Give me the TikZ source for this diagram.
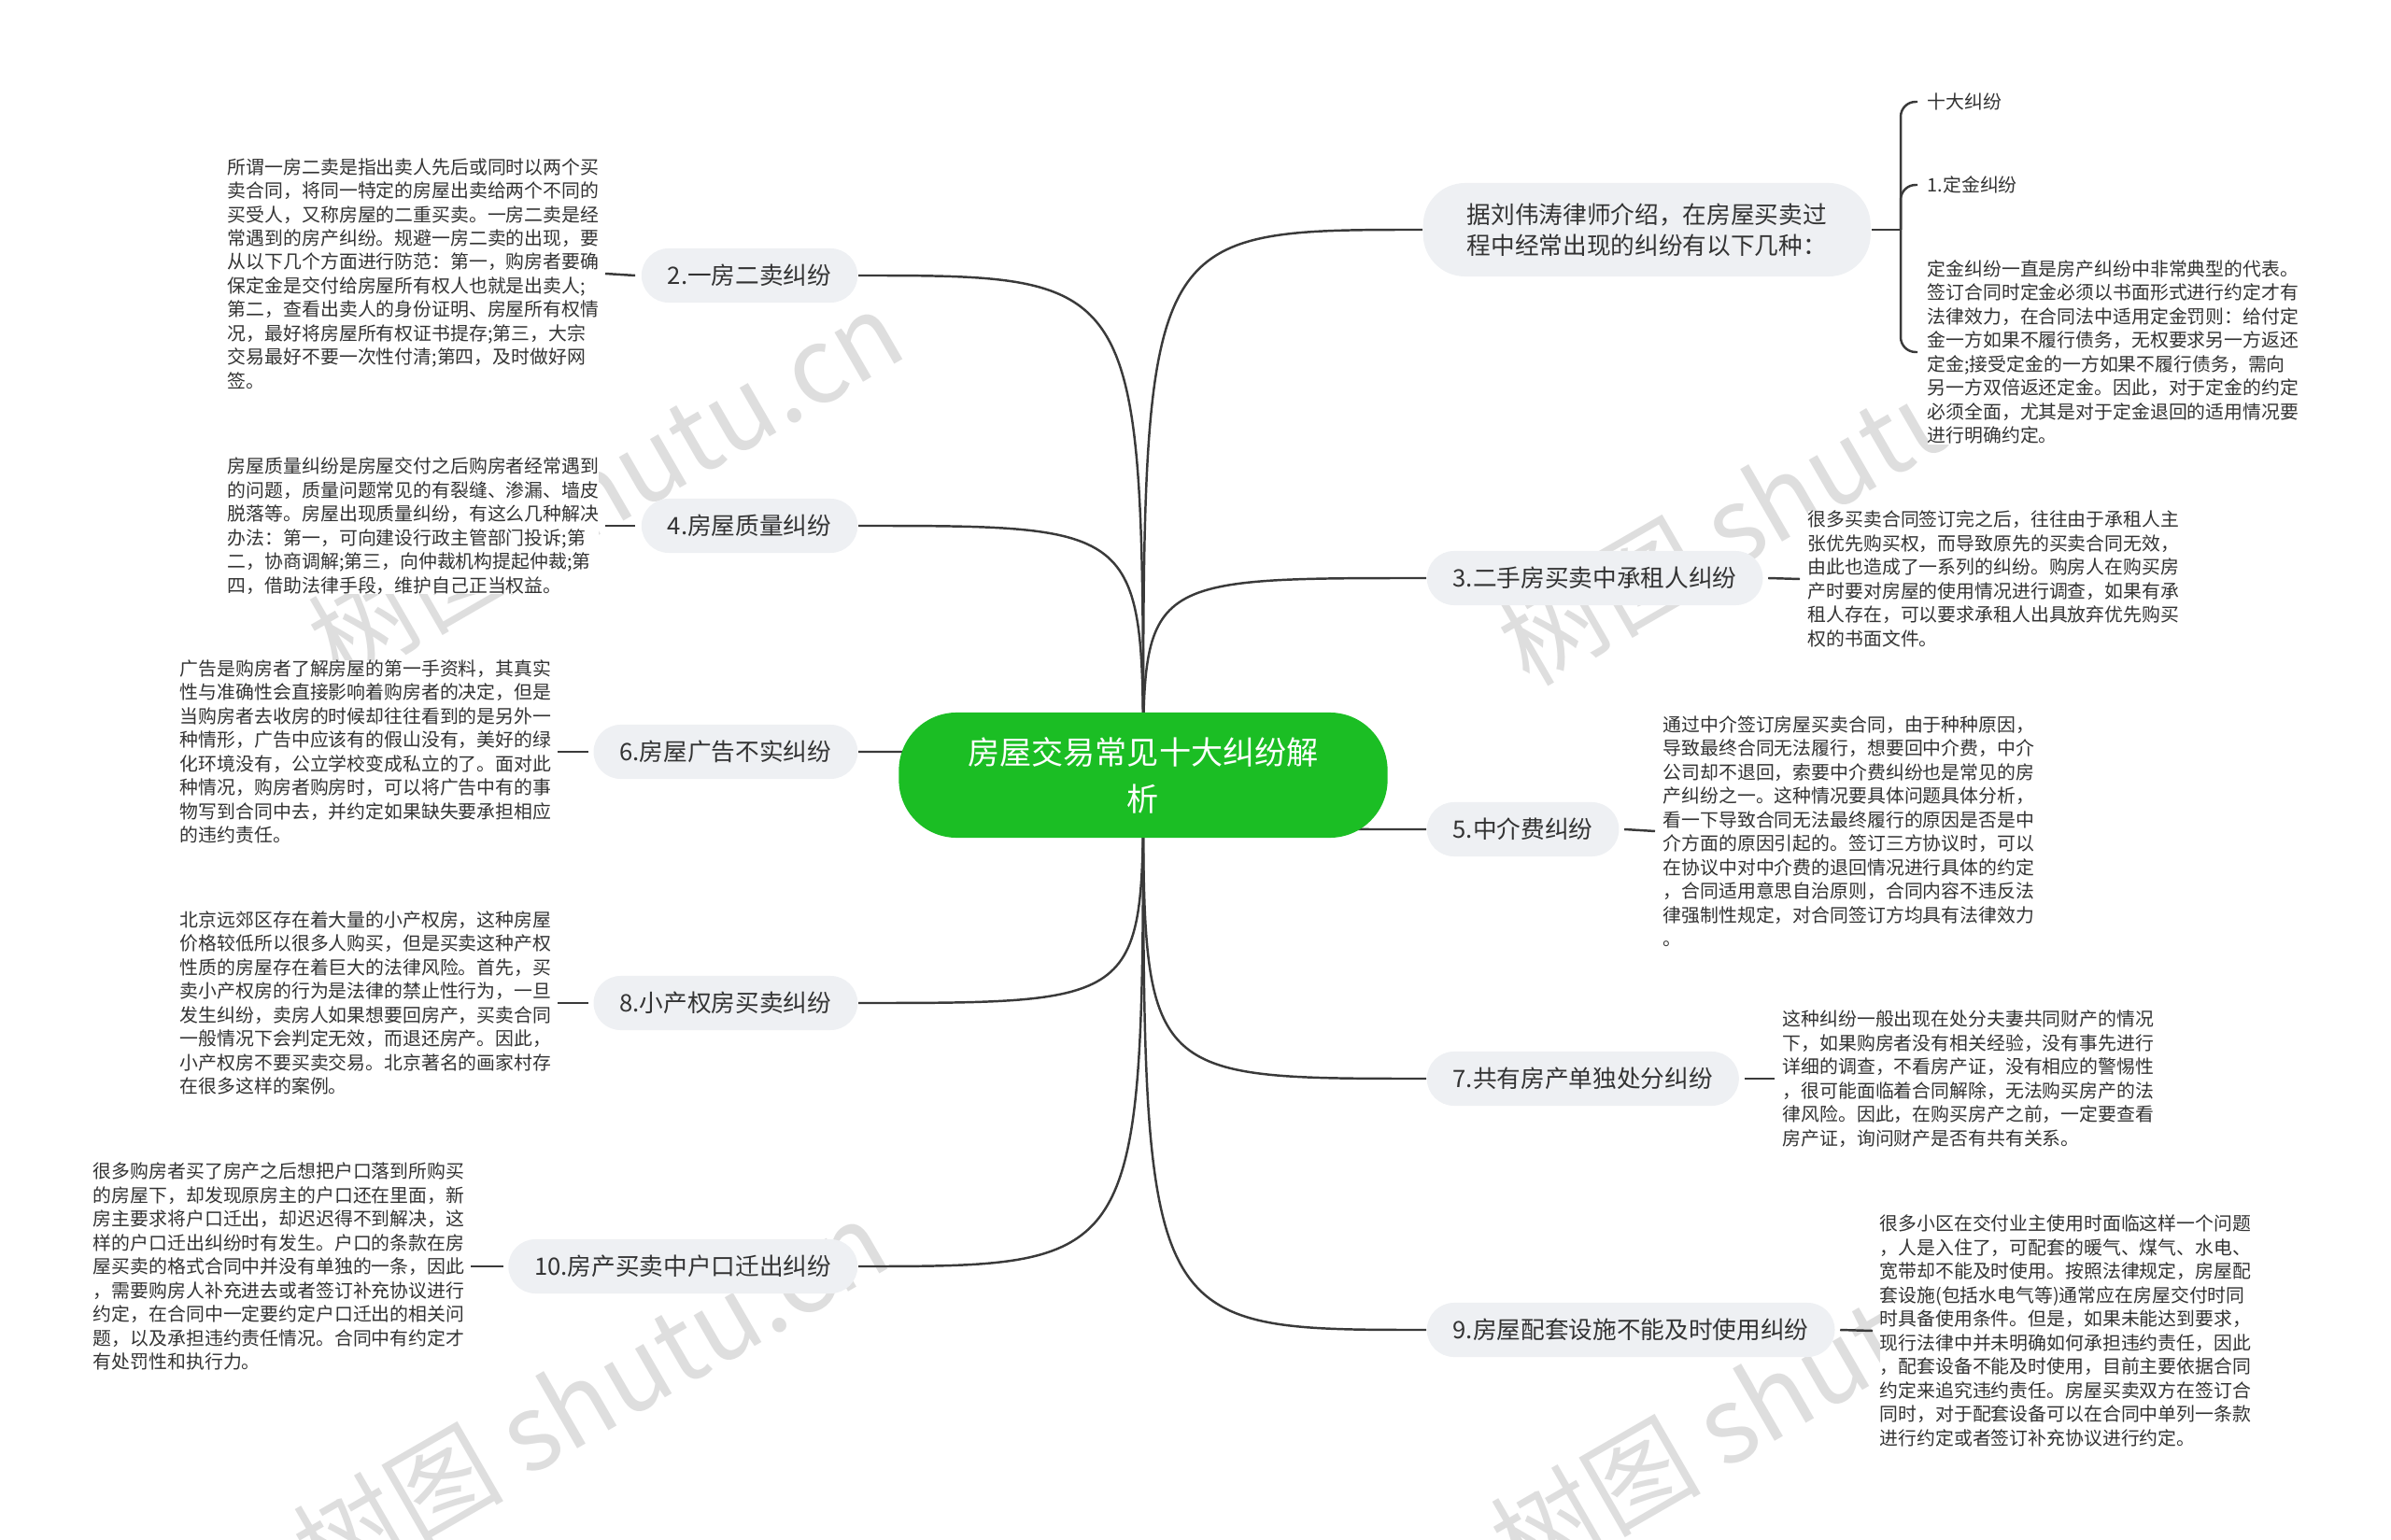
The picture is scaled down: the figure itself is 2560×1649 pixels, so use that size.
\documentclass[tikz,border=0pt]{standalone}
\usepackage{fontspec}
\setmainfont{Noto Sans CJK SC}
\usetikzlibrary{positioning}
\definecolor{rootGreen}{RGB}{27,190,36}
\definecolor{paleGray}{RGB}{238,240,243}
\definecolor{inkGray}{RGB}{51,51,51}
\definecolor{lineGray}{RGB}{58,58,58}
\definecolor{markGray}{RGB}{222,222,222}
\pgfdeclarelayer{bg}
\pgfsetlayers{bg,main}
\tikzset{
  rootbox/.style={fill=rootGreen, text=white, rounded corners=0.62cm, align=center,
                  minimum width=5.23cm, minimum height=1.34cm, font=\fontsize{9.7pt}{14.2pt}\selectfont},
  branchbox/.style={fill=paleGray, text=inkGray, rounded corners=0.29cm, align=left,
                    inner xsep=0.28cm, minimum height=0.58cm, font=\fontsize{7.3pt}{9.5pt}\selectfont},
  notetext/.style={fill=white, text=inkGray, align=left, inner sep=0pt,
                   font=\fontsize{5.65pt}{7.25pt}\selectfont},
  link/.style={draw=lineGray, line width=0.7pt},
  watermark/.style={text=markGray, rotate=30, font=\fontsize{32pt}{32pt}\selectfont}
}
\begin{document}
\begin{tikzpicture}[x=0.01cm, y=-0.01cm]
\useasboundingbox (0,0) rectangle (2560,1649);
\begin{pgfonlayer}{bg}
\node[watermark] (w1) at (648,520) {树图 shutu.cn};
\node[watermark] (w2) at (1922,523) {树图 shutu.cn};
\node[watermark] (w3) at (632,1494) {树图 shutu.cn};
\node[watermark] (w4) at (1914,1486) {树图 shutu.cn};
\end{pgfonlayer}

\node[rootbox] (root) at (1224,830) {房屋交易常见十大纠纷解\\析};

\node[branchbox, anchor=east] (b2) at (919,295) {2.一房二卖纠纷};
\node[branchbox, anchor=east] (b4) at (919,563) {4.房屋质量纠纷};
\node[branchbox, anchor=east] (b6) at (919,805) {6.房屋广告不实纠纷};
\node[branchbox, anchor=east] (b8) at (919,1074) {8.小产权房买卖纠纷};
\node[branchbox, anchor=east] (b10) at (919,1356) {10.房产买卖中户口迁出纠纷};

\node[branchbox, anchor=west, inner xsep=0.47cm, minimum height=1cm, rounded corners=0.45cm] (b1) at (1523,246) {据刘伟涛律师介绍，在房屋买卖过\\程中经常出现的纠纷有以下几种：};
\node[branchbox, anchor=west] (b3) at (1527,619) {3.二手房买卖中承租人纠纷};
\node[branchbox, anchor=west] (b5) at (1527,888) {5.中介费纠纷};
\node[branchbox, anchor=west] (b7) at (1527,1155) {7.共有房产单独处分纠纷};
\node[branchbox, anchor=west] (b9) at (1527,1424) {9.房屋配套设施不能及时使用纠纷};

\node[notetext, anchor=east] (t2) at (642,293) {所谓一房二卖是指出卖人先后或同时以两个买\\卖合同，将同一特定的房屋出卖给两个不同的\\买受人，又称房屋的二重买卖。一房二卖是经\\常遇到的房产纠纷。规避一房二卖的出现，要\\从以下几个方面进行防范：第一，购房者要确\\保定金是交付给房屋所有权人也就是出卖人;\\第二，查看出卖人的身份证明、房屋所有权情\\况，最好将房屋所有权证书提存;第三，大宗\\交易最好不要一次性付清;第四，及时做好网\\签。};
\node[notetext, anchor=east] (t4) at (642,563) {房屋质量纠纷是房屋交付之后购房者经常遇到\\的问题，质量问题常见的有裂缝、渗漏、墙皮\\脱落等。房屋出现质量纠纷，有这么几种解决\\办法：第一，可向建设行政主管部门投诉;第\\二，协商调解;第三，向仲裁机构提起仲裁;第\\四，借助法律手段，维护自己正当权益。};
\node[notetext, anchor=east] (t6) at (591,805) {广告是购房者了解房屋的第一手资料，其真实\\性与准确性会直接影响着购房者的决定，但是\\当购房者去收房的时候却往往看到的是另外一\\种情形，广告中应该有的假山没有，美好的绿\\化环境没有，公立学校变成私立的了。面对此\\种情况，购房者购房时，可以将广告中有的事\\物写到合同中去，并约定如果缺失要承担相应\\的违约责任。};
\node[notetext, anchor=east] (t8) at (591,1074) {北京远郊区存在着大量的小产权房，这种房屋\\价格较低所以很多人购买，但是买卖这种产权\\性质的房屋存在着巨大的法律风险。首先，买\\卖小产权房的行为是法律的禁止性行为，一旦\\发生纠纷，卖房人如果想要回房产，买卖合同\\一般情况下会判定无效，而退还房产。因此，\\小产权房不要买卖交易。北京著名的画家村存\\在很多这样的案例。};
\node[notetext, anchor=east] (t10) at (498,1356) {很多购房者买了房产之后想把户口落到所购买\\的房屋下，却发现原房主的户口还在里面，新\\房主要求将户口迁出，却迟迟得不到解决，这\\样的户口迁出纠纷时有发生。户口的条款在房\\屋买卖的格式合同中并没有单独的一条，因此\\，需要购房人补充进去或者签订补充协议进行\\约定，在合同中一定要约定户口迁出的相关问\\题，以及承担违约责任情况。合同中有约定才\\有处罚性和执行力。};

\coordinate (j1) at (2035,246);
\node[notetext, anchor=west] (t1a) at (2063,109) {十大纠纷};
\node[notetext, anchor=west] (t1b) at (2063,198) {1.定金纠纷};
\node[notetext, anchor=west] (t1c) at (2063,377) {定金纠纷一直是房产纠纷中非常典型的代表。\\签订合同时定金必须以书面形式进行约定才有\\法律效力，在合同法中适用定金罚则：给付定\\金一方如果不履行债务，无权要求另一方返还\\定金;接受定金的一方如果不履行债务，需向\\另一方双倍返还定金。因此，对于定金的约定\\必须全面，尤其是对于定金退回的适用情况要\\进行明确约定。};
\node[notetext, anchor=west] (t3) at (1935,620) {很多买卖合同签订完之后，往往由于承租人主\\张优先购买权，而导致原先的买卖合同无效，\\由此也造成了一系列的纠纷。购房人在购买房\\产时要对房屋的使用情况进行调查，如果有承\\租人存在，可以要求承租人出具放弃优先购买\\权的书面文件。};
\node[notetext, anchor=west] (t5) at (1780,890) {通过中介签订房屋买卖合同，由于种种原因，\\导致最终合同无法履行，想要回中介费，中介\\公司却不退回，索要中介费纠纷也是常见的房\\产纠纷之一。这种情况要具体问题具体分析，\\看一下导致合同无法最终履行的原因是否是中\\介方面的原因引起的。签订三方协议时，可以\\在协议中对中介费的退回情况进行具体的约定\\，合同适用意思自治原则，合同内容不违反法\\律强制性规定，对合同签订方均具有法律效力\\。};
\node[notetext, anchor=west] (t7) at (1908,1155) {这种纠纷一般出现在处分夫妻共同财产的情况\\下，如果购房者没有相关经验，没有事先进行\\详细的调查，不看房产证，没有相应的警惕性\\，很可能面临着合同解除，无法购买房产的法\\律风险。因此，在购买房产之前，一定要查看\\房产证，询问财产是否有共有关系。};
\node[notetext, anchor=west] (t9) at (2012,1425) {很多小区在交付业主使用时面临这样一个问题\\，人是入住了，可配套的暖气、煤气、水电、\\宽带却不能及时使用。按照法律规定，房屋配\\套设施(包括水电气等)通常应在房屋交付时同\\时具备使用条件。但是，如果未能达到要求，\\现行法律中并未明确如何承担违约责任，因此\\，配套设备不能及时使用，目前主要依据合同\\约定来追究违约责任。房屋买卖双方在签订合\\同时，对于配套设备可以在合同中单列一条款\\进行约定或者签订补充协议进行约定。};

\begin{pgfonlayer}{bg}
\foreach \b in {b1,b2,b3,b4,b5,b6,b7,b8,b9,b10}
  \draw[link] (root.center) .. controls (root.center |- \b) .. (\b);
\end{pgfonlayer}
\draw[link] (b1.east) -- (j1);
\draw[link, rounded corners=0.16cm] (j1) |- ([xshift=-0.1cm]t1a.west);
\draw[link, rounded corners=0.16cm] (j1) |- ([xshift=-0.1cm]t1b.west);
\draw[link, rounded corners=0.16cm] (j1) |- ([xshift=-0.1cm]t1c.west);
\draw[link] ([xshift=0.06cm]t2.east) -- ([xshift=-0.06cm]b2.west);
\draw[link] ([xshift=0.06cm]t4.east) -- ([xshift=-0.06cm]b4.west);
\draw[link] ([xshift=0.06cm]t6.east) -- ([xshift=-0.05cm]b6.west);
\draw[link] ([xshift=0.06cm]t8.east) -- ([xshift=-0.05cm]b8.west);
\draw[link] ([xshift=0.06cm]t10.east) -- ([xshift=-0.05cm]b10.west);
\draw[link] ([xshift=0.05cm]b3.east) -- ([xshift=-0.08cm]t3.west);
\draw[link] ([xshift=0.05cm]b5.east) -- ([xshift=-0.08cm]t5.west);
\draw[link] ([xshift=0.05cm]b7.east) -- ([xshift=-0.08cm]t7.west);
\draw[link] ([xshift=0.05cm]b9.east) -- ([xshift=-0.07cm]t9.west);
\end{tikzpicture}
\end{document}
